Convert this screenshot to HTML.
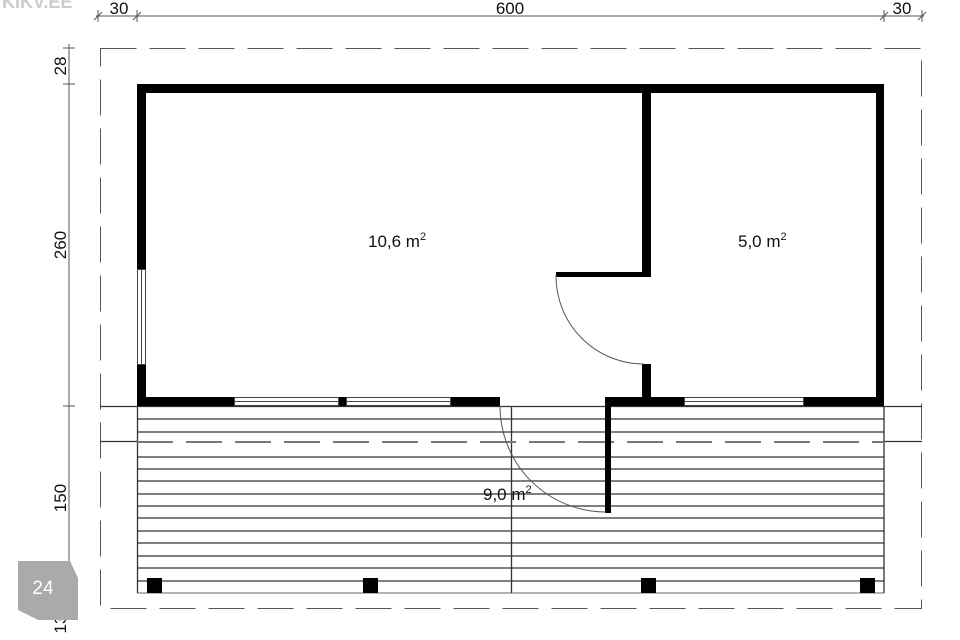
<!DOCTYPE html>
<html><head><meta charset="utf-8"><style>
html,body{margin:0;padding:0;background:#fff;}
svg{display:block;}
text{font-family:"Liberation Sans",sans-serif;fill:#111;}
</style></head><body>
<svg width="960" height="640" viewBox="0 0 960 640" xmlns="http://www.w3.org/2000/svg">
<rect width="960" height="640" fill="#fff"/>
<text x="2" y="8" font-size="18" font-weight="bold" style="fill:#ccc">KIKV.EE</text>
<g stroke="#555" stroke-width="1">
<line x1="96" y1="16" x2="924" y2="16"/>
<line x1="98" y1="10" x2="98" y2="22"/><line x1="137" y1="10" x2="137" y2="22"/>
<line x1="884" y1="10" x2="884" y2="22"/><line x1="922" y1="10" x2="922" y2="22"/>
<line x1="94" y1="20" x2="102" y2="12"/><line x1="133" y1="20" x2="141" y2="12"/>
<line x1="880" y1="20" x2="888" y2="12"/><line x1="918" y1="20" x2="926" y2="12"/>
<line x1="69" y1="44" x2="69" y2="612"/>
<line x1="63" y1="48" x2="75" y2="48"/><line x1="63" y1="84" x2="75" y2="84"/>
<line x1="63" y1="406" x2="75" y2="406"/><line x1="63" y1="593" x2="75" y2="593"/><line x1="63" y1="608" x2="75" y2="608"/>
</g>
<text x="119" y="14" font-size="17" text-anchor="middle">30</text>
<text x="510" y="14" font-size="17" text-anchor="middle">600</text>
<text x="902" y="14" font-size="17" text-anchor="middle">30</text>
<text transform="translate(66,66) rotate(-90)" font-size="17" text-anchor="middle">28</text>
<text transform="translate(66,245) rotate(-90)" font-size="17" text-anchor="middle">260</text>
<text transform="translate(66,498) rotate(-90)" font-size="17" text-anchor="middle">150</text>
<text transform="translate(66,624) rotate(-90)" font-size="17" text-anchor="middle">13</text>
<rect x="100.5" y="48.5" width="821" height="560" fill="none" stroke="#555" stroke-width="1" stroke-dasharray="36,13"/>
<g stroke="#333" stroke-width="1.3">
<line x1="100" y1="406.5" x2="922" y2="406.5"/>
<line x1="100" y1="441.5" x2="137" y2="441.5"/><line x1="884" y1="441.5" x2="922" y2="441.5"/>
<line x1="137" y1="419" x2="884" y2="419"/>
<line x1="137" y1="432" x2="884" y2="432"/>
<line x1="137" y1="457" x2="884" y2="457"/>
<line x1="137" y1="469" x2="884" y2="469"/>
<line x1="137" y1="481" x2="884" y2="481"/>
<line x1="137" y1="494" x2="884" y2="494"/>
<line x1="137" y1="506" x2="884" y2="506"/>
<line x1="137" y1="518" x2="884" y2="518"/>
<line x1="137" y1="531" x2="884" y2="531"/>
<line x1="137" y1="543" x2="884" y2="543"/>
<line x1="137" y1="556" x2="884" y2="556"/>
<line x1="137" y1="568" x2="884" y2="568"/>
<line x1="137" y1="581" x2="884" y2="581"/>
<line x1="137" y1="593" x2="884" y2="593" stroke="#888"/>
<line x1="137.5" y1="406" x2="137.5" y2="593"/>
<line x1="884" y1="406" x2="884" y2="593"/>
<line x1="511.5" y1="406" x2="511.5" y2="593"/>
</g>
<line x1="137" y1="442" x2="884" y2="442" stroke="#777" stroke-width="2" stroke-dasharray="36,13"/>
<g fill="#000">
<rect x="147" y="578" width="15" height="15"/><rect x="363" y="578" width="15" height="15"/>
<rect x="641" y="578" width="15" height="15"/><rect x="860" y="578" width="15" height="15"/>
</g>
<g fill="#000">
<rect x="137" y="84" width="747" height="9"/>
<rect x="137" y="84" width="9" height="185"/>
<rect x="137" y="364" width="9" height="42"/>
<rect x="876" y="84" width="8" height="322"/>
<rect x="137" y="397" width="97" height="9"/>
<rect x="338" y="397" width="8" height="9"/>
<rect x="450" y="397" width="50" height="9"/>
<rect x="605" y="397" width="79" height="9"/>
<rect x="803" y="397" width="81" height="9"/>
<rect x="642" y="84" width="9" height="193"/>
<rect x="556" y="272" width="95" height="5"/>
<rect x="642" y="364" width="9" height="42"/>
<rect x="605" y="397" width="6" height="116"/>
</g>
<g fill="#fff" stroke="#444" stroke-width="1">
<rect x="137.5" y="269.5" width="8" height="95"/>
<line x1="141.5" y1="270" x2="141.5" y2="364"/>
<rect x="234.5" y="397.5" width="104" height="8"/>
<line x1="235" y1="401.5" x2="338" y2="401.5"/>
<rect x="346.5" y="397.5" width="104" height="8"/>
<line x1="347" y1="401.5" x2="450" y2="401.5"/>
<rect x="684.5" y="397.5" width="119" height="8"/>
<line x1="685" y1="401.5" x2="803" y2="401.5"/>
</g>
<path d="M556,275 A88,88 0 0 0 644,364" fill="none" stroke="#555" stroke-width="1"/>
<path d="M500,406 A106,106 0 0 0 606,512" fill="none" stroke="#555" stroke-width="1"/>
<text x="368" y="247" font-size="17">10,6 m<tspan font-size="11" dy="-7">2</tspan></text>
<text x="738" y="247" font-size="17">5,0 m<tspan font-size="11" dy="-7">2</tspan></text>
<text x="483" y="500" font-size="17">9,0 m<tspan font-size="11" dy="-7">2</tspan></text>
<path d="M18,561 L70,561 L78,578 L78,620 L38,620 L18,610 Z" fill="#aaa"/>
<text x="43" y="594" font-size="19" text-anchor="middle" style="fill:#fff">24</text>
</svg>
</body></html>
